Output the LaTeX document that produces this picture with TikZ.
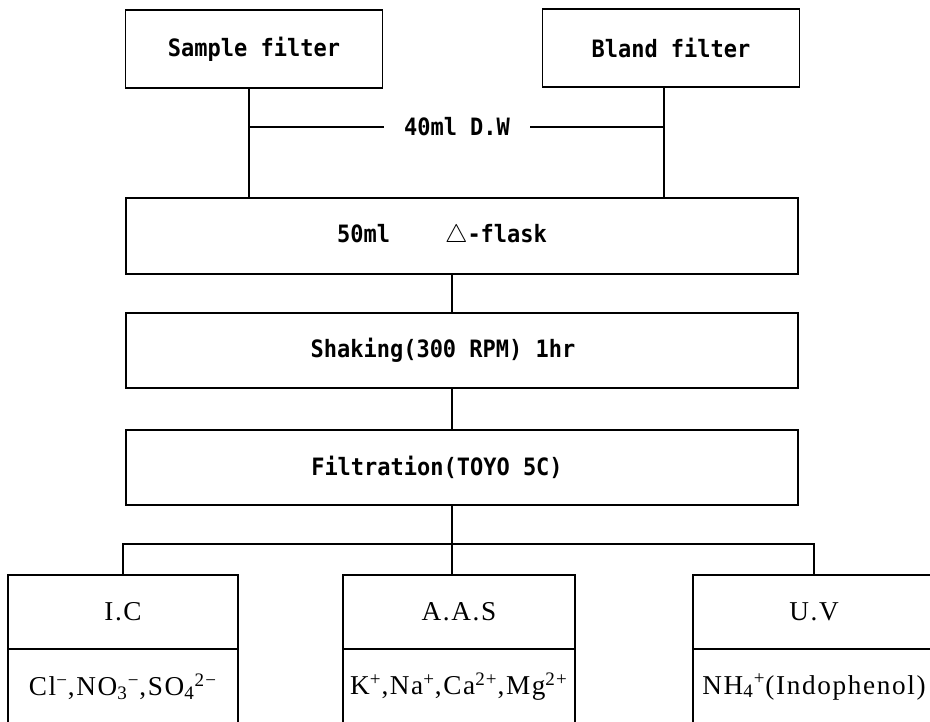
\documentclass[tikz,border=0pt]{standalone}
\usepackage{fontspec}
\setmainfont{Liberation Serif}
\newfontfamily\boxfont[FakeStretch=0.92]{DejaVu Sans Mono Bold}
\newfontfamily\ionfont[LetterSpace=6]{Liberation Serif}
\usepackage{tikz}
\usetikzlibrary{positioning,calc}
\tikzset{
  filterbox/.style={rectangle, draw=black, line width=1.1pt,
                    minimum width=5.14cm, minimum height=1.56cm,
                    font=\boxfont\fontsize{13.6}{15}\selectfont},
  stepbox/.style={rectangle, draw=black, line width=1.1pt,
                  minimum width=13.46cm, minimum height=1.5cm,
                  font=\boxfont\fontsize{13.6}{15}\selectfont},
  methodbox/.style={rectangle, draw=black, line width=1.1pt, outer sep=0pt,
                    minimum height=1.48cm,
                    font=\ionfont\fontsize{15.5}{18}\selectfont},
  link/.style={draw=black, line width=1.1pt}
}

\begin{document}
\begin{tikzpicture}[x=0.02cm, y=-0.02cm]
\useasboundingbox (0,0) rectangle (930,721);
\clip (0,0) rectangle (930,721);

% --- Filters ---
\node[filterbox] (sample) at (254,49) {Sample filter};
\node[filterbox] (bland) at (671,48) {Bland filter};

% --- Extraction steps ---
\node[stepbox, minimum height=1.52cm] (flask) at (462,236)
  {50ml\hspace{1.1cm}$\bigtriangleup$-flask\hspace*{0.8cm}};
\node[stepbox, below=0.74cm of flask] (shaking) {Shaking(300 RPM) 1hr\hspace*{0.76cm}};
\node[stepbox, below=0.8cm of shaking] (filtration) {Filtration(TOYO 5C)\hspace*{1cm}};

% --- Analysis ---
\coordinate[below=0.76cm of filtration, xshift=-0.2cm] (split);
\node[methodbox, minimum width=4.6cm] (ic) at (123,612) {I.C};
\node[methodbox, minimum width=4.64cm] (aas) at (459,612) {A.A.S};
\node[methodbox, minimum width=4.84cm] (uv) at (814,612) {U.V};
\node[methodbox, minimum width=4.6cm, minimum height=1.52cm, below=0pt of ic] (icion)
  {Cl\textsuperscript{−},NO\textsubscript{3}\textsuperscript{−},SO\textsubscript{4}\textsuperscript{2−}};
\node[methodbox, minimum width=4.64cm, minimum height=1.52cm, below=0pt of aas] (aasion)
  {K\textsuperscript{+},Na\textsuperscript{+},Ca\textsuperscript{2+},Mg\textsuperscript{2+}};
\node[methodbox, minimum width=4.84cm, minimum height=1.52cm, below=0pt of uv] (uvion)
  {NH\textsubscript{4}\textsuperscript{+}(Indophenol)};

% --- Water label ---
\node[inner xsep=0.4cm, font=\boxfont\fontsize{13.6}{15}\selectfont]
  (dw) at (457,127) {40ml D.W};

% --- Lines ---
\draw[link] ([xshift=-0.1cm]sample.south) -- ([xshift=-0.1cm]sample.south |- flask.north);
\draw[link] ([xshift=-0.14cm]bland.south) -- ([xshift=-0.14cm]bland.south |- flask.north);
\draw[link] ([xshift=-0.1cm]sample.south |- dw) -- (dw);
\draw[link] (dw) -- ([xshift=-0.14cm]bland.south |- dw);

\draw[link] ([xshift=-0.2cm]flask.south) -- ([xshift=-0.2cm]shaking.north);
\draw[link] ([xshift=-0.2cm]shaking.south) -- ([xshift=-0.2cm]filtration.north);
\draw[link] (split |- filtration.south) -- (split);

\draw[link] (ic) |- (split) -| (uv);
\draw[link] (split) -- (split |- aas.north);

\end{tikzpicture}
\end{document}
